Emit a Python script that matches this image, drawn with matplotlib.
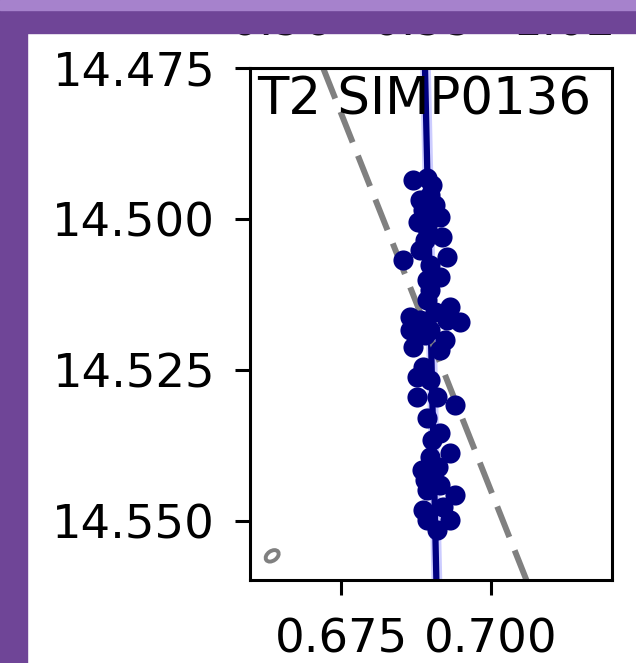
import numpy as np
import matplotlib.pyplot as plt
from matplotlib.patches import Ellipse, Rectangle

# data
ra = [0.6893, 0.6870, 0.6902, 0.6898, 0.6882, 0.6887, 0.6915, 0.6878, 0.6893,
      0.6918, 0.6882, 0.6927, 0.6853, 0.6915, 0.6893, 0.6898, 0.6893, 0.6932,
      0.6865, 0.6882, 0.6927, 0.6948, 0.6898, 0.6870, 0.6915, 0.6887, 0.6877,
      0.6898, 0.6877, 0.6910, 0.6940, 0.6893, 0.6915, 0.6898, 0.6932, 0.6885,
      0.6912, 0.6893, 0.6940, 0.6887, 0.6920, 0.6893, 0.6932, 0.6910, 0.6907,
      0.6890, 0.6923, 0.6865, 0.6902, 0.6890, 0.6915, 0.6898, 0.6907, 0.6890]
dec = [14.4932, 14.4935, 14.4944, 14.4960, 14.4969, 14.4985, 14.4997, 14.5005,
       14.5015, 14.5030, 14.5051, 14.5063, 14.5068, 14.5096, 14.5101, 14.5118,
       14.5134, 14.5146, 14.5162, 14.5167, 14.5167, 14.5171, 14.5184, 14.5212,
       14.5217, 14.5245, 14.5262, 14.5267, 14.5295, 14.5295, 14.5308, 14.5329,
       14.5354, 14.5394, 14.5387, 14.5416, 14.5411, 14.5449, 14.5457, 14.5482,
       14.5477, 14.5498, 14.5498, 14.5515, 14.5154, 14.5192, 14.5200, 14.5184,
       14.5366, 14.5432, 14.5440, 14.5076, 14.4977, 14.5035]

fit_x = [0.6890, 0.6909]
fit_y = [14.475, 14.560]
fit_err = 0.0009
ref_x = [0.6720, 0.7060]
ref_y = [14.475, 14.560]
beam = (0.6635, 14.5558)
label = 'T2 SIMP0136'
top_labels = ['0.96', '0.99', '1.02']

fig = plt.figure(figsize=(6.36, 6.63), dpi=100)
ax = fig.add_axes([250/636, 1-580/663, 362/636, 512/663])

ax.fill_betweenx(fit_y, [v - fit_err for v in fit_x], [v + fit_err for v in fit_x],
                 color='blue', alpha=0.2, lw=0)
ax.plot(fit_x, fit_y, color='navy', lw=4.5)
ax.plot(ref_x, ref_y, color='gray', lw=4.3, dashes=(5.5, 2.4))
ax.scatter(ra, dec, s=210, color='navy', lw=0, zorder=3)
ax.add_patch(Ellipse(beam, 0.0024, 0.0016, angle=-35, fill=False,
                     ec='gray', lw=2.8))

ax.set_xlim(0.6598, 0.7202)
ax.set_ylim(14.5598, 14.475)
ax.set_xticks([0.675, 0.700])
ax.set_yticks([14.475, 14.500, 14.525, 14.550])
ax.tick_params(labelsize=33.5, length=11, width=2.2)
ax.tick_params(axis='y', pad=14)
ax.tick_params(axis='x', pad=16)
for sp in ax.spines.values():
    sp.set_linewidth(2.2)
ax.text(0.02, 0.985, label, transform=ax.transAxes, fontsize=37,
        va='top', ha='left')

for lab, xc in zip(top_labels, [282, 424, 565]):
    fig.text(xc/636, 1-36/663, lab, fontsize=33.5, ha='center', va='baseline')

fig.patches.append(Rectangle((0, 1-33/663), 1, 33/663, transform=fig.transFigure,
                             color='#6f4597', zorder=10))
fig.patches.append(Rectangle((0, 1-10/663), 1, 10/663, transform=fig.transFigure,
                             color='#a682cc', zorder=11))
fig.patches.append(Rectangle((0, 0), 27/636, 1-33/663, transform=fig.transFigure,
                             color='#6f4597', zorder=10))

plt.savefig('out.png', dpi=100)
